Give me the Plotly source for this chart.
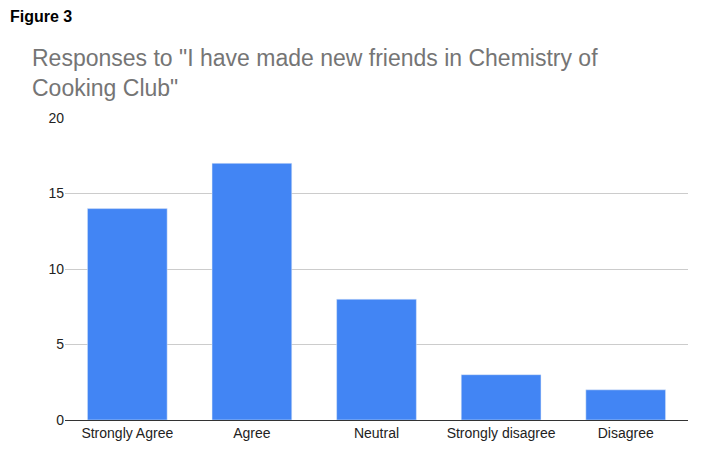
import plotly.graph_objects as go

categories = ["Strongly Agree", "Agree", "Neutral", "Strongly disagree", "Disagree"]
values = [14, 17, 8, 3, 2]
tick_vals = [0, 5, 10, 15, 20]

L, R, T, B, W, H = 57, 36, 110, 44, 716, 456
pw, ph = W - L - R, H - T - B

def px(x):
    return (x - L) / pw

def py(y):
    return 1 - (y - T) / ph

fig = go.Figure(go.Bar(x=categories, y=values, marker_color="#4285f4", width=0.64))
fig.update_layout(
    width=W, height=H, plot_bgcolor="white", paper_bgcolor="white",
    margin=dict(l=L, r=R, t=T, b=B),
    font=dict(family="Liberation Sans, Arial", size=14, color="#222"),
    showlegend=False,
    annotations=[
        dict(text="<b>Figure 3</b>", x=px(0), y=py(8), xref="paper", yref="paper", showarrow=False,
             font=dict(size=16, color="black"), xanchor="left", yanchor="middle"),
        dict(text='Responses to "I have made new friends in Chemistry of<br>Cooking Club"',
             x=px(22), y=py(65), xref="paper", yref="paper", showarrow=False, align="left",
             xanchor="left", yanchor="middle",
             font=dict(size=23, color="#757575")),
    ],
)
fig.update_xaxes(showline=True, linecolor="#333", linewidth=1, ticks="", showgrid=False)
fig.update_yaxes(range=[0, 20], tickvals=tick_vals, gridcolor="#cccccc", zeroline=False, ticks="")
fig.write_html("out.html")
